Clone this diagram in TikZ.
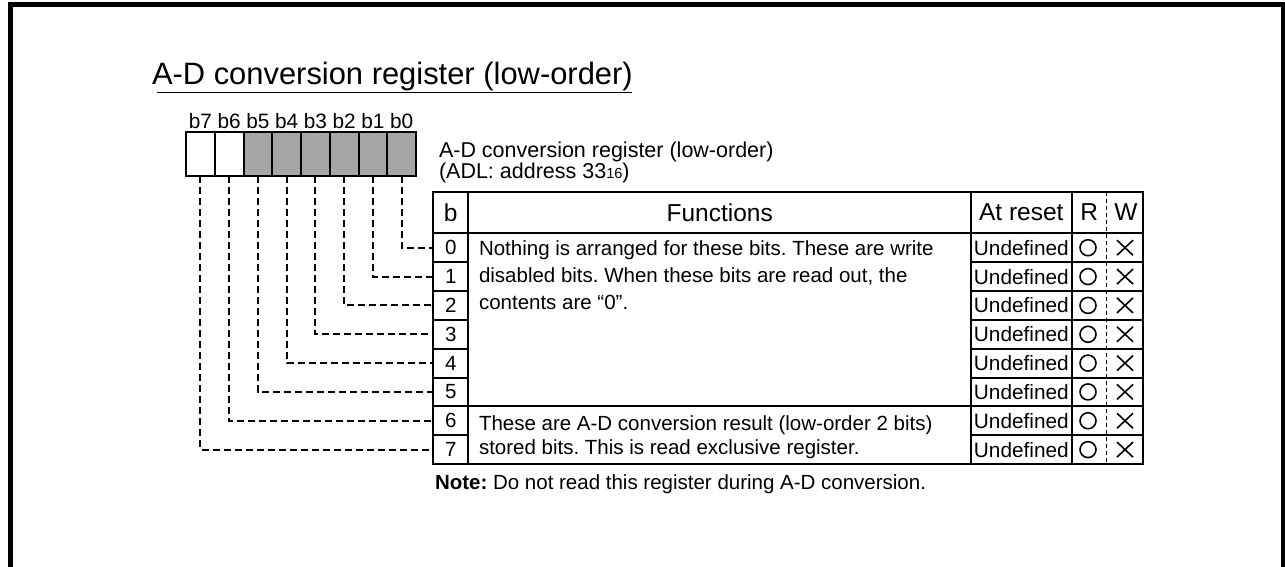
\documentclass[tikz,border=0pt]{standalone}
\usepackage{fontspec}
\setmainfont{Liberation Sans}
\usetikzlibrary{shapes.misc}
\definecolor{regray}{HTML}{A6A6A6}
\frenchspacing
\begin{document}
\begin{tikzpicture}[x=1pt,y=-1pt,
 every node/.style={inner sep=0pt,outer sep=0pt},
 bodyfont/.style={font=\fontsize{20.5}{24}\selectfont},
 headfont/.style={font=\fontsize{24.5}{28}\selectfont},
 regcell/.style={draw,line width=2pt,minimum width=28.75pt,minimum height=43.7pt},
 tcell/.style={draw,line width=2pt},
 conn/.style={line width=2pt,dash pattern=on 7pt off 4pt},
 frameline/.style={line width=5pt,line join=miter},
 rwdiv/.style={line width=1.4pt,dash pattern=on 4pt off 3pt},
]
\useasboundingbox (0,0) rectangle (1285,566);
\clip (0,0) rectangle (1285,566);
\draw[frameline] (10.5,575) -- (10.5,4.5) -- (1283.5,4.5) -- (1283.5,575);

% title
\node[anchor=base west,font=\fontsize{30.9}{34}\selectfont] (title) at (152,84) {A-D conversion register (low-order)};
\coordinate (ulA) at (157,92.5);
\coordinate (ulB) at (632,92.5);
\draw[line width=1.5pt] (ulA) -- (ulB);

% register cells
\foreach \i/\c in {0/regray,1/regray,2/regray,3/regray,4/regray,5/regray,6/white,7/white}{
  \pgfmathsetmacro{\rx}{186+28.75*(7.5-\i)}
  \node[regcell,fill=\c] (r\i) at (\rx,154.2) {};
  \node[anchor=base,font=\fontsize{20.8}{24}\selectfont] (lb\i) at (\rx,128) {b\i};
}

% address text
\node[anchor=base west,font=\fontsize{21.5}{24}\selectfont] (addr1) at (439,157) {A-D conversion register (low-order)};
\node[anchor=base west,font=\fontsize{21.5}{24}\selectfont] (addr2) at (439,178) {(ADL: address 33{\fontsize{14.5}{15}\selectfont 16})};

% header
\node[tcell,minimum width=35pt,minimum height=41.6pt,headfont] (hb) at (450.8,212.5) {b};
\node[tcell,minimum width=502.7pt,minimum height=41.6pt,headfont] (hf) at (719.65,212.5) {Functions};
\node[tcell,minimum width=100.7pt,minimum height=41.6pt,headfont] (ha) at (1021.35,212.5) {At reset};
\node[tcell,minimum width=71.6pt,minimum height=41.6pt] (hr) at (1107.5,212.5) {};
\node[headfont] (hR) at (1089.2,212.5) {R};
\node[headfont] (hW) at (1126,212.5) {W};

% function cells
\node[tcell,minimum width=502.7pt,minimum height=173.04pt] (fa) at (719.65,319.82) {};
\node[tcell,minimum width=502.7pt,minimum height=57.68pt] (fb) at (719.65,435.18) {};

\node[anchor=base west,bodyfont] (ta1) at (479,255) {Nothing is arranged for these bits. These are write};
\node[anchor=base west,bodyfont] (ta2) at (479,282) {disabled bits. When these bits are read out, the};
\node[anchor=base west,bodyfont] (ta3) at (479,309) {contents are “0”.};
\node[anchor=base west,bodyfont] (tb1) at (479,430.6) {These are A-D conversion result (low-order 2 bits)};
\node[anchor=base west,bodyfont] (tb2) at (479,454) {stored bits. This is read exclusive register.};

% rows
\foreach \i in {0,...,7}{
  \pgfmathsetmacro{\ry}{233.3+28.84*(\i+0.5)}
  \node[tcell,minimum width=35pt,minimum height=28.84pt,bodyfont] (n\i) at (450.8,\ry) {\i};
  \node[tcell,minimum width=100.7pt,minimum height=28.84pt,font=\fontsize{20.8}{24}\selectfont] (u\i) at (1021.35,\ry) {Undefined};
  \node[tcell,minimum width=71.6pt,minimum height=28.84pt] (rw\i) at (1107.5,\ry) {};
  \node[circle,draw,line width=1.6pt,minimum size=16pt] (o\i) at (1088,\ry) {};
  \node[cross out,draw,line width=1.6pt,minimum width=16pt,minimum height=15pt] (x\i) at (1125,\ry) {};
  \draw[conn] (r\i.south) |- (n\i.west);
}
\draw[rwdiv] (1106.7,191.7) -- (1106.7,464);

% note
\node[anchor=base west,bodyfont] (note) at (435,489) {\textbf{Note:} Do not read this register during A-D conversion.};
\end{tikzpicture}
\end{document}
